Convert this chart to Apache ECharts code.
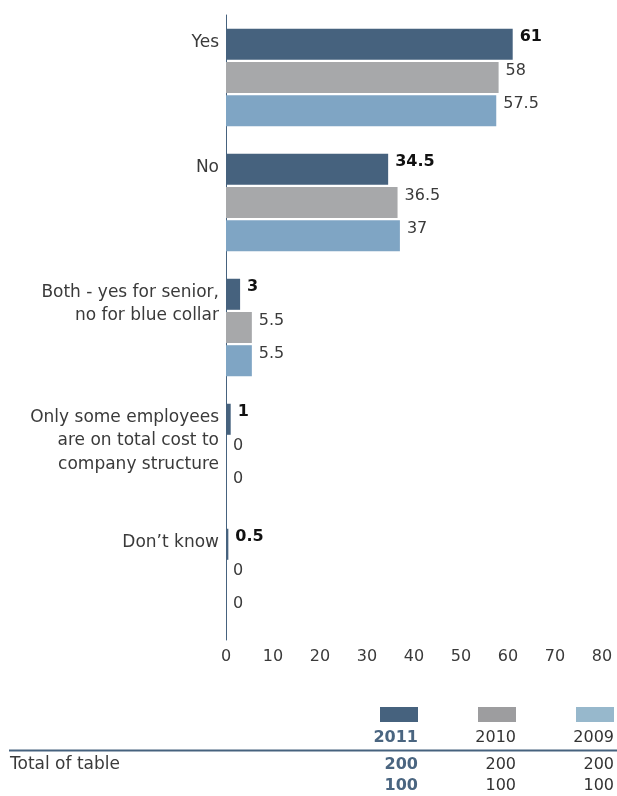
<!DOCTYPE html>
<html><head><meta charset="utf-8">
<script src="https://cdn.jsdelivr.net/npm/echarts@6/dist/echarts.min.js"></script>
<style>html,body{margin:0;padding:0;background:#fff}#c{width:617px;height:796px}</style>
</head><body><div id="c"></div>
<script>
const categories = ["Yes", "No", "Both - yes for senior,\nno for blue collar", "Only some employees\nare on total cost to\ncompany structure", "Don’t know"];
const years = ["2011", "2010", "2009"];
const values2011 = [61, 34.5, 3, 1, 0.5];
const values2010 = [58, 36.5, 5.5, 0, 0];
const values2009 = [57.5, 37, 5.5, 0, 0];
const totals = [200, 200, 200];
const percents = [100, 100, 100];
const xTicks = [0, 10, 20, 30, 40, 50, 60, 70, 80];

const FONT = "DejaVu Sans";
const barColors = ["#46627e", "#a7a8aa", "#7fa5c4"];
const swatchColors = ["#46627e", "#9d9d9f", "#97b8cc"];

function padLines(s) {
  const n = s.split("\n").length;
  return s + "\n".repeat(4 - n);
}

const chart = echarts.init(document.getElementById('c'));
const seriesData = [values2011, values2010, values2009];
const series = seriesData.map((d, i) => ({
  name: years[i], type: 'bar', data: d,
  barGap: '7%', barCategoryGap: '22%',
  itemStyle: { color: barColors[i] },
  label: {
    show: true, position: 'right', distance: 7, offset: [0, -7],
    fontFamily: FONT, fontSize: 16,
    fontWeight: i === 0 ? 'bold' : 'normal',
    color: i === 0 ? '#111' : '#3a3a3a'
  }
}));

const graphic = [];
const swRight = [418, 516, 614];
years.forEach((y, i) => {
  graphic.push({ type: 'rect', shape: { x: swRight[i] - 38, y: 707, width: 38, height: 15 }, style: { fill: swatchColors[i] } });
  const bold = i === 0;
  const col = bold ? '#4a6580' : '#333';
  const font = (bold ? 'bold ' : '') + '16px "' + FONT + '"';
  graphic.push({ type: 'text', style: { text: y, x: swRight[i], y: 738, align: 'right', verticalAlign: 'middle', font: font, fill: col } });
  graphic.push({ type: 'text', style: { text: String(totals[i]), x: swRight[i], y: 765, align: 'right', verticalAlign: 'middle', font: font, fill: col } });
  graphic.push({ type: 'text', style: { text: String(percents[i]), x: swRight[i], y: 786, align: 'right', verticalAlign: 'middle', font: font, fill: col } });
});
graphic.push({ type: 'line', shape: { x1: 9, y1: 750.5, x2: 617, y2: 750.5 }, style: { stroke: '#46627e', lineWidth: 2 } });
graphic.push({ type: 'text', style: { text: 'Total of table', x: 10, y: 765, verticalAlign: 'middle', font: '17px "' + FONT + '"', fill: '#3a3a3a' } });

chart.setOption({
  animation: false,
  textStyle: { fontFamily: FONT },
  grid: { left: 226, right: 15, top: 15, bottom: 156, containLabel: false },
  xAxis: {
    type: 'value', min: xTicks[0], max: xTicks[xTicks.length - 1], interval: 10,
    axisLine: { show: false }, axisTick: { show: false }, splitLine: { show: false },
    axisLabel: { color: '#3a3a3a', fontSize: 16, fontFamily: FONT, margin: 9 }
  },
  yAxis: {
    type: 'category', data: categories, inverse: true,
    axisLine: { show: true, lineStyle: { color: '#46627e', width: 1 } },
    axisTick: { show: false },
    axisLabel: {
      color: '#3a3a3a', fontSize: 17, fontFamily: FONT, margin: 7, lineHeight: 23.5,
      align: 'right', verticalAlign: 'middle', padding: [12, 0, 0, 0],
      formatter: v => padLines(v)
    }
  },
  series: series,
  graphic: graphic
});
</script></body></html>
